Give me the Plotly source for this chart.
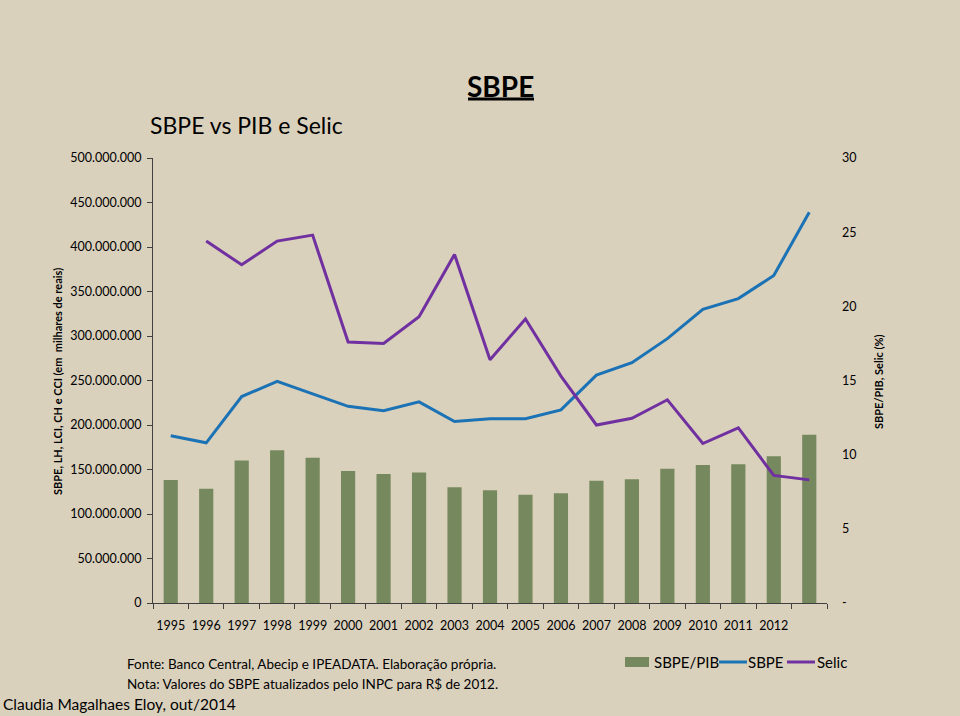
import plotly.graph_objects as go

# ---------------- data ----------------
years = list(range(1995, 2014))
tick_labels = [str(y) for y in range(1995, 2013)] + [""]

sbpe_pib = [8.3, 7.7, 9.6, 10.3, 9.8, 8.9, 8.7, 8.8, 7.8, 7.6, 7.3, 7.4,
            8.25, 8.35, 9.05, 9.3, 9.35, 9.9, 11.35]

sbpe = [188e6, 180e6, 232e6, 249e6, 235e6, 221e6, 216e6, 226e6, 204e6, 207e6,
        207e6, 217e6, 256e6, 270e6, 297e6, 330e6, 342e6, 368e6, 439e6]

selic_years = list(range(1996, 2014))
selic = [24.4, 22.8, 24.4, 24.8, 17.6, 17.5, 19.3, 23.5, 16.4, 19.15, 15.3,
         12.0, 12.45, 13.7, 10.75, 11.8, 8.6, 8.3]

left_ticks = [0, 50e6, 100e6, 150e6, 200e6, 250e6, 300e6, 350e6, 400e6, 450e6, 500e6]
right_ticks = [0, 5, 10, 15, 20, 25, 30]
right_tick_text = ["-", "5", "10", "15", "20", "25", "30"]

# ---------------- style ----------------
BG = "#DAD1BD"
BAR = "#76885D"
BLUE = "#1B72B5"
PURPLE = "#7030A0"
AXIS = "#404040"
FONT = "Lato"

W, H = 960, 716
L, R, T, B = 153, 827, 158, 603


def px(x):
    return (x - L) / (R - L)


def py(y):
    return (B - y) / (B - T)


fig = go.Figure()
fig.add_trace(go.Bar(x=years, y=sbpe_pib, name="SBPE/PIB", marker_color=BAR,
                     marker_line_width=0, yaxis="y2", showlegend=False))
fig.add_trace(go.Scatter(x=years, y=sbpe, name="SBPE", mode="lines",
                         line=dict(color=BLUE, width=3), yaxis="y", showlegend=False))
fig.add_trace(go.Scatter(x=selic_years, y=selic, name="Selic", mode="lines",
                         line=dict(color=PURPLE, width=3), yaxis="y2", showlegend=False))

annotations = [
    dict(text="<b>SBPE</b>", x=px(501), y=py(86), font=dict(size=28, family=FONT, color="black")),
    dict(text="SBPE vs PIB e Selic", x=px(148), y=py(125), xanchor="left",
         font=dict(size=23, family=FONT, color="black")),
    dict(text="<b>SBPE, LH, LCI, CH e CCI (em  milhares de reais)</b>", x=px(57), y=py(382),
         textangle=-90, font=dict(size=11, family=FONT, color="black")),
    dict(text="<b>SBPE/PIB, Selic (%)</b>", x=px(878), y=py(381),
         textangle=-90, font=dict(size=11, family=FONT, color="black")),
    dict(text="Fonte: Banco Central, Abecip e IPEADATA. Elaboração própria.", x=px(125), y=py(664),
         xanchor="left", font=dict(size=13.5, family=FONT, color="black")),
    dict(text="Nota: Valores do SBPE atualizados pelo INPC para R$ de 2012.", x=px(125), y=py(684),
         xanchor="left", font=dict(size=13.5, family=FONT, color="black")),
    dict(text="Claudia Magalhaes Eloy, out/2014", x=px(1), y=py(704),
         xanchor="left", font=dict(size=15.5, family=FONT, color="black")),
    # legend texts
    dict(text="SBPE/PIB", x=px(652), y=py(662), xanchor="left", font=dict(size=15, family=FONT, color="black")),
    dict(text="SBPE", x=px(746), y=py(662), xanchor="left", font=dict(size=15, family=FONT, color="black")),
    dict(text="Selic", x=px(815), y=py(662), xanchor="left", font=dict(size=15, family=FONT, color="black")),
]
for a in annotations:
    a.update(xref="paper", yref="paper", showarrow=False)
    a.setdefault("xanchor", "center")
    a.setdefault("yanchor", "middle")

shapes = [
    # title underline
    dict(type="line", x0=px(468), x1=px(534), y0=py(99), y1=py(99),
         line=dict(color="black", width=3)),
    # legend swatches
    dict(type="rect", x0=px(625), x1=px(649), y0=py(657), y1=py(667),
         fillcolor=BAR, line=dict(width=0)),
    dict(type="line", x0=px(719), x1=px(747), y0=py(662), y1=py(662),
         line=dict(color=BLUE, width=3)),
    dict(type="line", x0=px(787), x1=px(815), y0=py(662), y1=py(662),
         line=dict(color=PURPLE, width=3)),
]
for s in shapes:
    s.update(xref="paper", yref="paper")

fig.update_layout(
    width=W, height=H,
    margin=dict(l=L, r=W - R, t=T, b=H - B, pad=0),
    paper_bgcolor=BG, plot_bgcolor=BG,
    separators=",.",
    bargap=0.6,
    font=dict(family=FONT, color="black", size=12),
    xaxis=dict(
        range=[1994.5, 2013.5], tickmode="array", tickvals=years, ticktext=tick_labels,
        ticks="", showline=True, linecolor=AXIS, linewidth=1, showgrid=False, zeroline=False,
        tickfont=dict(size=12.5, family=FONT, color="black"), ticklabelstandoff=11,
        minor=dict(tickmode="array", tickvals=[y + 0.5 for y in range(1994, 2014)],
                   ticks="outside", ticklen=5, tickcolor=AXIS, showgrid=False),
    ),
    yaxis=dict(
        range=[0, 500e6], tickmode="array", tickvals=left_ticks, tickformat=",.0f",
        ticks="outside", ticklen=5, tickcolor=AXIS, showline=True, linecolor=AXIS, linewidth=1,
        showgrid=False, zeroline=False, tickfont=dict(size=12.5, family=FONT, color="black"),
        ticklabelstandoff=3,
    ),
    yaxis2=dict(
        range=[0, 30], overlaying="y", side="right", tickmode="array",
        tickvals=right_ticks, ticktext=right_tick_text, showline=False, showgrid=False,
        zeroline=False, ticks="", tickfont=dict(size=12.5, family=FONT, color="black"),
        ticklabelstandoff=14,
    ),
    annotations=annotations,
    shapes=shapes,
    showlegend=False,
)

fig.write_html(
    "out.html",
    config={"displayModeBar": False},
    post_script="document.body.style.margin='0';document.body.style.padding='0';"
                "document.body.style.overflow='hidden';document.body.style.background='" + BG + "';",
)
